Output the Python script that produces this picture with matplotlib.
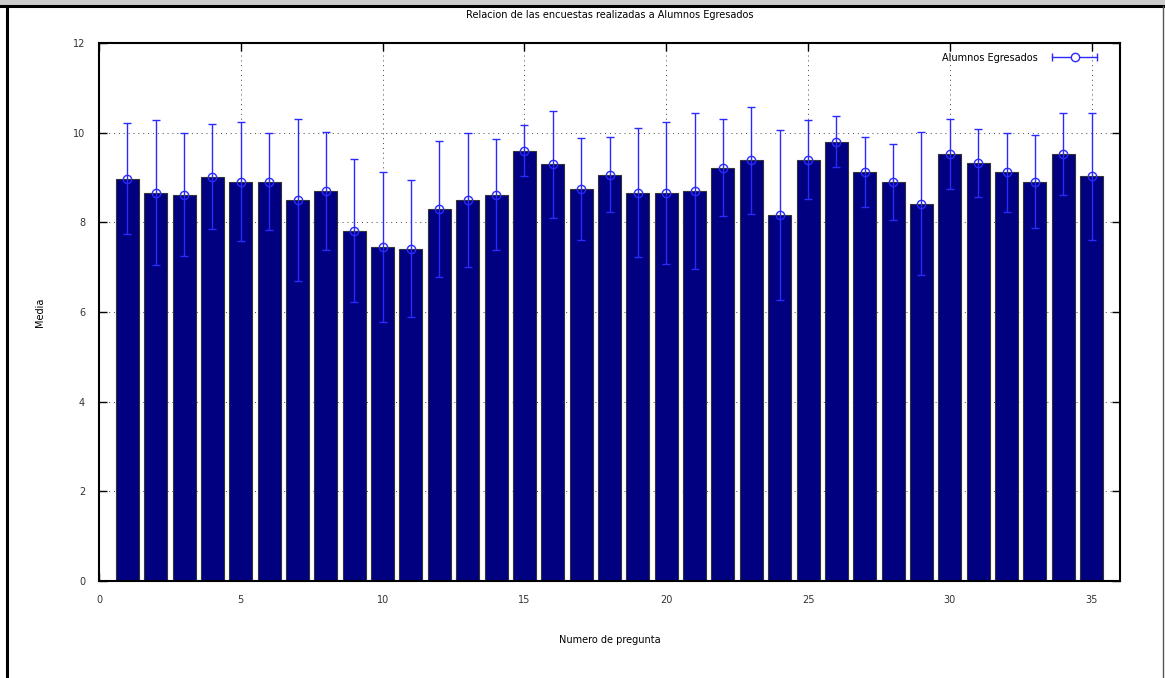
import matplotlib
matplotlib.use("Agg")
import matplotlib.pyplot as plt
from matplotlib.lines import Line2D
from matplotlib.patches import Rectangle
from matplotlib.legend_handler import HandlerLine2D

# numero de pregunta, media y desviacion
preguntas = list(range(1, 36))
media = [8.97, 8.66, 8.62, 9.02, 8.91, 8.91, 8.50, 8.70, 7.81, 7.45,
         7.41, 8.30, 8.50, 8.62, 9.60, 9.29, 8.74, 9.06, 8.66, 8.66,
         8.70, 9.22, 9.38, 8.17, 9.40, 9.80, 9.12, 8.90, 8.42, 9.52,
         9.32, 9.12, 8.91, 9.52, 9.03]
desv = [1.235, 1.62, 1.365, 1.165, 1.325, 1.08, 1.805, 1.315, 1.595, 1.67,
        1.53, 1.52, 1.50, 1.23, 0.575, 1.185, 1.14, 0.835, 1.44, 1.585,
        1.73, 1.075, 1.185, 1.90, 0.88, 0.57, 0.775, 0.84, 1.585, 0.78,
        0.755, 0.88, 1.04, 0.915, 1.415]

titulo = "Relacion de las encuestas realizadas a Alumnos Egresados"
serie = "Alumnos Egresados"
azul = "#2a2aff"

W, H = 1165, 678
fig = plt.figure(figsize=(W / 100, H / 100), dpi=100)
fig.patch.set_facecolor("white")

# marco de la pagina (barra gris arriba, bordes)
fig.add_artist(Rectangle((0, 1 - 5 / H), 1, 5 / H, transform=fig.transFigure,
                         facecolor="#cccccc", edgecolor="none"))
fig.add_artist(Line2D([0, 1], [1 - 6 / H, 1 - 6 / H], transform=fig.transFigure,
                      color="black", lw=2.2))
fig.add_artist(Line2D([6.5 / W, 6.5 / W], [0, 1 - 6 / H], transform=fig.transFigure,
                      color="black", lw=2.2))
fig.add_artist(Line2D([1163 / W, 1163 / W], [0, 1 - 6 / H], transform=fig.transFigure,
                      color="#555555", lw=1.0))

ax = fig.add_axes([99 / W, 1 - 581 / H, (1120 - 99) / W, (581 - 43) / H])

ax.bar(preguntas, media, width=0.81, color="#000080", edgecolor="#333333",
       linewidth=0.8, zorder=2)
ax.errorbar(preguntas, media, yerr=desv, fmt="o", mfc="none", mec=azul,
            ms=6, mew=1.0, ecolor=azul, elinewidth=1.0, capsize=3,
            capthick=1.0, zorder=3)

ax.set_xlim(0, 36)
ax.set_ylim(0, 12)
ax.set_xticks(range(0, 36, 5))
ax.set_yticks(range(0, 13, 2))
ax.tick_params(direction="in", length=6, width=1, top=True, right=True,
               labelsize=7, labelcolor="#333333", pad=10)
for s in ax.spines.values():
    s.set_linewidth(1.5)

ax.grid(True, linestyle=(0, (1, 4)), color="#444444", linewidth=0.7)
ax.set_axisbelow(True)

ax.set_xlabel("Numero de pregunta", fontsize=7, labelpad=22)
ax.set_ylabel("Media", fontsize=7, labelpad=20)
fig.text(610 / W, 1 - 15 / H, titulo, ha="center", va="center", fontsize=7)

# simbolo de la leyenda al estilo gnuplot: linea con topes y circulo
topes = Line2D([], [], color=azul, lw=1.0, marker="|", ms=6, mew=1.0)
circulo = Line2D([], [], color=azul, ls="none", marker="o", mfc="white",
                 mec=azul, ms=6, mew=1.0)
ax.legend([(topes, circulo)], [serie], loc="upper right", frameon=False,
          fontsize=7, markerfirst=False, handlelength=5.3, handletextpad=1.1,
          borderaxespad=0.6, bbox_to_anchor=(0.9902, 1.0),
          handler_map={topes: HandlerLine2D(numpoints=2),
                       circulo: HandlerLine2D(numpoints=1)})

fig.savefig("out.png", dpi=100)
